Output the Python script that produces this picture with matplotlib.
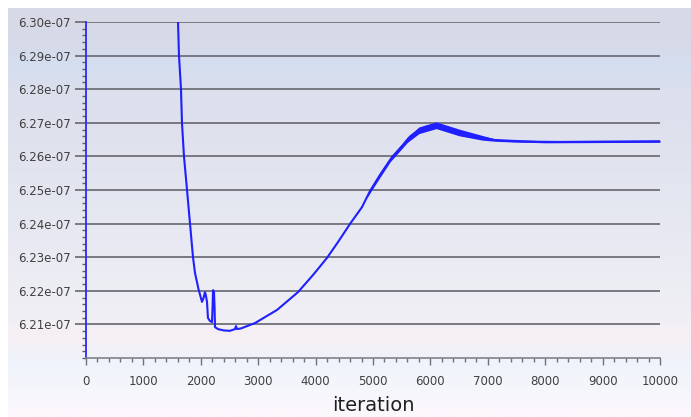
import matplotlib
matplotlib.use("Agg")
import matplotlib.pyplot as plt
import numpy as np
from matplotlib.colors import LinearSegmentedColormap
from matplotlib.ticker import MultipleLocator, FuncFormatter

# residual history (value in units of 1e-07)
iteration = [1595, 1603, 1620, 1655, 1672, 1707, 1760, 1812, 1864, 1899,
             1960, 2021, 2050, 2073, 2090, 2108, 2125, 2160, 2195, 2205,
             2213, 2230, 2240, 2247, 2300, 2400, 2509, 2596, 2613, 2631,
             2700, 2944, 3328, 3693, 3955, 4199, 4390, 4599, 4808, 4948,
             5122, 5331, 5523, 5650, 5819, 5950, 6115, 6300, 6463, 6700,
             6916, 7213, 7600, 8258, 9000, 10000]
value = [6.302, 6.300, 6.290, 6.280, 6.270, 6.260, 6.250, 6.240, 6.230, 6.2253,
         6.2205, 6.2167, 6.2180, 6.2196, 6.2185, 6.2167, 6.2119, 6.2110, 6.2107,
         6.2150, 6.2202, 6.2196, 6.2150, 6.2092, 6.2086, 6.2082, 6.2081, 6.2086,
         6.2095, 6.2086, 6.2088, 6.2104, 6.2143, 6.2196, 6.2247, 6.2298,
         6.2345, 6.2399, 6.2449, 6.2497, 6.2545, 6.2598, 6.2634, 6.2660,
         6.2680, 6.2690, 6.2693, 6.2686, 6.2673, 6.2662, 6.2655, 6.2646,
         6.2644, 6.2643, 6.2644, 6.2645]

# width of the oscillation band (half width, units of 1e-07)
band_iter = [4900, 5100, 5300, 5600, 5800, 6100, 6500, 6900, 7100, 8000, 10000]
band_half = [0.0002, 0.0007, 0.0006, 0.0008, 0.0010, 0.0010, 0.0010, 0.0007, 0.0004, 0.0003, 0.0003]

y_ticks = [6.21, 6.22, 6.23, 6.24, 6.25, 6.26, 6.27, 6.28, 6.29, 6.30]
x_ticks = [0, 1000, 2000, 3000, 4000, 5000, 6000, 7000, 8000, 9000, 10000]

W, H = 691, 417
fig = plt.figure(figsize=(W / 100, H / 100), dpi=100)
fig.patch.set_facecolor("white")

# Fluent style gradient background
bg = fig.add_axes([8 / W, 0, 1 - 8 / W, 1 - 8 / H], zorder=0)
cmap = LinearSegmentedColormap.from_list(
    "fluent",
    [(0.0, "#d8d9e6"), (0.1, "#d6dbea"), (0.14, "#d4def0"), (0.2, "#dcdfec"),
     (0.5, "#e5e7f1"), (0.75, "#f0eff5"), (0.8, "#f6f0f4"), (0.86, "#f0f3fb"),
     (0.93, "#f5f6fc"), (1.0, "#fdf8fc")])
bg.imshow(np.linspace(0, 1, 256)[:, None], aspect="auto", cmap=cmap,
          extent=[0, 1, 0, 1])
bg.set_axis_off()

ax = fig.add_axes([86 / W, 1 - 358 / H, (660 - 86) / W, (358 - 22) / H], zorder=1)
ax.patch.set_alpha(0)

ax.plot(iteration, value, color="#1f1fff", lw=1.5, zorder=3)
band_center = np.interp(band_iter, iteration, value)
ax.fill_between(band_iter, band_center - np.array(band_half),
                band_center + np.array(band_half), color="#1f1fff", lw=0, zorder=3)

ax.set_xlim(0, 10000)
ax.set_ylim(6.2, 6.30)

ax.set_yticks(y_ticks)
ax.yaxis.set_minor_locator(MultipleLocator(0.002))
ax.yaxis.set_major_formatter(FuncFormatter(lambda v, p: f"{v:.2f}e-07"))
ax.set_xticks(x_ticks)
ax.xaxis.set_minor_locator(MultipleLocator(200))

ax.grid(axis="y", color="#707078", lw=1.3, zorder=1)
ax.tick_params(axis="y", which="major", length=8, width=1.3, color="#707078",
               labelsize=8.5, labelcolor="#404040", pad=3)
ax.tick_params(axis="y", which="minor", length=3, width=1, color="#606068")
ax.tick_params(axis="x", which="major", length=5, width=1, color="#707078",
               labelsize=8.5, labelcolor="#404040", pad=7)
ax.tick_params(axis="x", which="minor", length=3, width=1, color="#707078")

for s in ["top", "right"]:
    ax.spines[s].set_visible(False)
ax.spines["left"].set_color("#2a2aff")
ax.spines["left"].set_linewidth(1.3)
ax.spines["bottom"].set_color("#808088")
ax.spines["bottom"].set_linewidth(1.2)

ax.set_xlabel("iteration", fontsize=14, color="#202020", labelpad=6)

plt.savefig("out.png", dpi=100)
